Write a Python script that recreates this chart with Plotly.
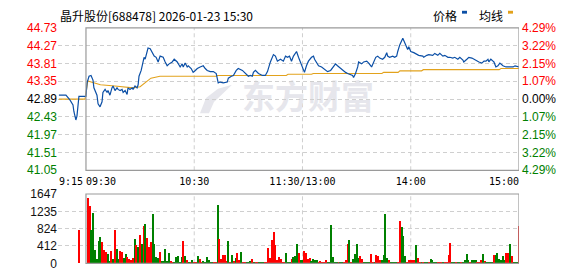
import plotly.graph_objects as go

# ---------------- data ----------------
title_text = "晶升股份[688478] 2026-01-23 15:30"
prev_close = 42.89
price_ticks = [41.05, 41.51, 41.97, 42.43, 42.89, 43.35, 43.81, 44.27, 44.73]
pct_labels = ["4.29%", "3.22%", "2.15%", "1.07%", "0.00%", "1.07%", "2.15%", "3.22%", "4.29%"]
vol_ticks = [0, 412, 824, 1235, 1647]
x_label_minutes = [-15, 0, 60, 120, 180, 240]
x_labels = ["9:15", "09:30", "10:30", "11:30/13:00", "14:00", "15:00"]

# minutes from 09:30 (negative = 9:15-9:30 auction), price
price_t = [-15.0, -11.1, -8.9, -7.2, -6.7, -5.6, -5.0, -4.4, -3.9, -0.6,
           0.0, 0.6, 1.7, 2.8, 3.9, 4.4, 5.6, 6.1, 6.7, 7.8, 8.9, 9.4, 10.6, 11.7, 12.2, 13.3,
           14.4, 15.0, 16.1, 17.2, 17.8, 18.9, 20.0, 20.6, 21.7, 22.8, 23.3, 24.4, 25.6, 26.1,
           27.2, 28.3, 28.9, 29.4, 30.6, 31.1, 31.7, 32.2, 32.8, 33.9, 34.4, 35.6, 36.7, 37.8,
           38.9, 40.0, 41.1, 42.8, 43.9, 45.0, 46.1, 47.8, 48.9, 50.6, 52.2, 53.3, 53.9, 55.0,
           56.1, 56.7, 58.3, 59.4, 60.6, 61.7, 63.3, 65.0, 66.1, 67.2, 68.9, 70.6, 72.2, 72.8,
           73.3, 74.4, 76.1, 78.3, 78.9, 80.6, 81.7, 83.3, 84.4, 86.7, 88.3, 89.4, 90.0, 91.1,
           92.2, 92.8, 93.9, 95.6, 97.8, 99.4, 100.6, 102.2, 103.9, 105.0, 106.1, 107.8, 109.4,
           110.6, 111.7, 112.8, 113.9, 115.0, 116.7, 117.8, 118.9, 120.0,
           120.6, 121.1, 122.2, 123.3, 125.0, 126.1, 126.7, 127.8, 128.9, 130.6, 131.7, 132.8,
           133.9, 135.6, 137.2, 138.3, 139.4, 141.1, 142.8, 143.9, 145.0, 146.7, 147.8, 148.3,
           149.4, 150.6, 151.1, 152.8, 153.9, 155.6, 156.7, 158.3, 159.4, 160.6, 161.7, 162.8,
           164.4, 165.6, 166.7, 167.2, 168.3, 170.0, 171.1, 172.2, 172.8, 173.9, 175.6, 176.1,
           177.2, 178.3, 178.9, 180.0, 181.7, 182.8, 184.4, 186.7, 187.2, 188.9, 190.0, 192.2,
           193.3, 195.0, 196.1, 197.8, 198.9, 200.6, 201.7, 203.3, 204.4, 206.1, 207.2, 208.9,
           209.4, 211.1, 212.2, 213.9, 215.0, 216.7, 217.8, 219.4, 220.6, 221.7, 222.8, 223.3,
           224.4, 225.6, 226.1, 227.2, 228.3, 229.4, 231.1, 232.8, 234.4, 236.7, 237.8, 239.4, 240.0]
price_p = [42.99, 42.99, 42.87, 42.74, 42.57, 42.35, 42.45, 42.74, 42.96, 42.96,
           42.96, 43.31, 43.48, 43.50, 43.38, 43.18, 43.01, 42.99, 42.77, 42.69, 42.82, 43.06, 43.14, 43.06, 43.11, 42.99,
           43.18, 43.23, 43.11, 43.18, 43.14, 43.11, 43.14, 43.06, 43.11, 43.01, 43.18, 43.14, 43.18, 43.14,
           43.23, 43.18, 43.26, 43.48, 43.63, 43.72, 43.82, 43.97, 43.92, 44.12, 44.21, 44.19, 44.09, 44.00,
           43.97, 43.85, 44.00, 43.97, 43.85, 43.75, 43.80, 43.85, 43.92, 43.85, 43.72, 43.80, 43.72, 43.82,
           43.72, 43.75, 43.68, 43.58, 43.63, 43.68, 43.72, 43.75, 43.68, 43.63, 43.60, 43.60, 43.55, 43.36,
           43.31, 43.33, 43.31, 43.33, 43.43, 43.48, 43.50, 43.63, 43.68, 43.63, 43.55, 43.50, 43.48, 43.50,
           43.48, 43.58, 43.63, 43.55, 43.50, 43.50, 43.60, 43.85, 44.04, 44.00, 43.87, 43.92, 43.87,
           44.00, 43.97, 44.00, 43.87, 44.00, 44.12, 43.97, 43.85, 43.72,
           43.63, 43.58, 43.75, 43.87, 43.97, 44.00, 43.92, 43.82, 43.75, 43.72, 43.68, 43.63,
           43.60, 43.63, 43.75, 43.80, 43.75, 43.68, 43.60, 43.58, 43.55, 43.53, 43.50, 43.45,
           43.55, 43.72, 43.85, 43.80, 43.85, 43.87, 43.82, 43.72, 43.85, 43.97, 44.00, 43.95,
           43.92, 43.97, 44.09, 44.00, 43.97, 44.00, 43.97, 44.00, 44.12, 44.29, 44.46, 44.41,
           44.29, 44.17, 44.24, 44.12, 44.09, 44.07, 44.02, 44.00, 43.97, 44.02, 44.04, 44.02,
           44.07, 44.02, 44.07, 44.00, 44.02, 43.97, 43.97, 43.95, 43.97, 43.92, 43.97, 43.90,
           43.85, 43.92, 43.97, 43.95, 43.92, 43.87, 43.85, 43.82, 43.87, 43.87, 43.92, 43.85,
           43.92, 43.87, 43.85, 43.72, 43.75, 43.82, 43.75, 43.72, 43.72, 43.72, 43.75, 43.72, 43.72]

avg_t = [-15, -0.5, 1, 8, 16, 26, 30, 33, 36, 41, 72, 73, 111, 112, 125, 126, 164, 165,
         173, 174, 186, 187, 229, 230, 240]
avg_p = [42.89, 42.89, 43.36, 43.26, 43.23, 43.18, 43.21, 43.31, 43.43, 43.48, 43.48, 43.50,
         43.50, 43.53, 43.53, 43.55, 43.55, 43.58, 43.58, 43.62, 43.62, 43.65, 43.65, 43.68, 43.68]

vol_t = [-4] + list(range(1, 241))
vol_v = [790,
         1542, 1354, 790, 1203, 323, 98, 526, 624, 504, 323, 278, 226, 53, 301, 113, 790, 338, 113, 301, 278,
         128, 226, 150, 98, 75, 135, 579, 429, 376, 677, 451, 880, 925, 602, 384, 511, 1165, 466, 150, 128,
         263, 53, 53, 338, 53, 248, 53, 38, 38, 150, 173, 23, 150, 526, 173, 75, 23, 23, 75, 23,
         23, 165, 113, 38, 53, 38, 150, 90, 23, 15, 23, 15, 1376, 579, 113, 203, 188, 53, 541, 38,
         188, 53, 135, 248, 75, 278, 23, 23, 38, 23, 53, 98, 23, 23, 23, 23, 23, 23, 23, 23,
         361, 135, 549, 752, 429, 75, 150, 98, 23, 23, 248, 23, 23, 113, 150, 173, 451, 248, 90, 75,
         301, 248, 113, 135, 53, 113, 68, 68, 23, 45, 23, 23, 68, 23, 23, 902, 150, 38, 23, 23,
         23, 38, 23, 68, 451, 564, 38, 113, 226, 451, 135, 165, 113, 38, 23, 23, 23, 226, 23, 23,
         203, 165, 90, 75, 203, 1173, 135, 90, 23, 23, 23, 23, 23, 1015, 865, 654, 173, 23, 90, 75,
         75, 75, 436, 135, 23, 23, 23, 23, 23, 23, 113, 68, 38, 23, 23, 23, 23, 23, 23, 23,
         203, 474, 23, 23, 23, 23, 23, 23, 23, 90, 226, 68, 38, 90, 75, 90, 23, 23, 90, 226,
         53, 38, 23, 23, 23, 203, 203, 248, 113, 90, 165, 68, 248, 248, 451, 165, 23, 23, 23, 880]
vol_dir = ("r" +
           "rrggggggrrrggrgrggrr" "ggrrrrgrgrgrgrrrgggg" "rggggg" "rrggggg" "rgrgrgrrgrrgggg" "g"
           "grrgrrrrrgrgrgrrgrrg" "ggrgrrgggrrrrrrrr" "rrrrgggrggg" "rggrrrrggg"
           "grrrrrggggggrggrrrgr" "ggggrrggggrrgrrrgggg" "rggggrrgggrrrrrgrrgr" "ggrggggrrrgrrrrggrgg"
           "rggggrgggrrrgrggggrg" "gggggrrgrgggrrrrrggg")

# ---------------- styling ----------------
RED, GREEN, BLACK = "#ff0000", "#008000", "#000000"
W, H = 578, 276
X0, X1 = 58, 519            # plot area (px)
P_TOP, P_BOT = 22, 172      # price panel (px)
V_TOP, V_BOT = 197, 270     # volume panel (px)
GRID = "#cfcfcf"
BOX = "#9a9a9a"
XR = [-15.5, 240]
ppm = (X1 - X0) / (XR[1] - XR[0])


def col(v):
    if v > prev_close + 1e-9:
        return RED
    if v < prev_close - 1e-9:
        return GREEN
    return BLACK


dirs = (vol_dir + "g" * len(vol_v))[:len(vol_v)]
vol_colors = [RED if d == "r" else GREEN for d in dirs]

fig = go.Figure()
fig.add_trace(go.Scatter(x=avg_t, y=avg_p, mode="lines", line=dict(color="#e2a21c", width=1.1),
                         xaxis="x", yaxis="y", hoverinfo="skip", showlegend=False))
fig.add_trace(go.Scatter(x=price_t, y=price_p, mode="lines", line=dict(color="#0b4fa6", width=1.2),
                         xaxis="x", yaxis="y", hoverinfo="skip", showlegend=False))
fig.add_trace(go.Scatter(x=[0], y=[prev_close], mode="markers", marker=dict(opacity=0),
                         xaxis="x", yaxis="y3", hoverinfo="skip", showlegend=False))
fig.add_trace(go.Bar(x=vol_t, y=vol_v, marker=dict(color=vol_colors, line=dict(width=0)),
                     width=0.6, xaxis="x2", yaxis="y2", hoverinfo="skip", showlegend=False))

align = ["left", "left", "center", "center", "center", "right"]
tick_pos = []
for m, lab, a in zip(x_label_minutes, x_labels, align):
    wpx = len(lab) * 6.02
    if a == "left":
        tick_pos.append(m + (wpx / 2) / ppm)
    elif a == "right":
        tick_pos.append(m - (wpx / 2) / ppm)
    else:
        tick_pos.append(m)

axis_font = dict(family="Liberation Sans", size=12)
price_text = ['<span style="color:%s">%.2f</span>' % (col(v), v) for v in price_ticks]
pct_text = ['<span style="color:%s">%s</span>' % (col(v), s) for v, s in zip(price_ticks, pct_labels)]

dom_x = [X0 / W, X1 / W]
fig.update_layout(
    width=W, height=H, margin=dict(l=0, r=0, t=0, b=0),
    paper_bgcolor="white", plot_bgcolor="white", bargap=0, showlegend=False,
    xaxis=dict(domain=dom_x, range=XR, anchor="y", showgrid=False, zeroline=False,
               tickmode="array", tickvals=tick_pos, ticktext=x_labels, ticks="",
               ticklabelstandoff=4,
               tickfont=dict(family="DejaVu Sans Mono", size=10, color=BLACK), showline=False),
    xaxis2=dict(domain=dom_x, range=XR, anchor="y2", matches="x", showgrid=False, zeroline=False,
                showticklabels=False, showline=False),
    yaxis=dict(domain=[1 - P_BOT / H, 1 - P_TOP / H], range=[price_ticks[0], price_ticks[-1]],
               tickmode="array", tickvals=price_ticks, ticktext=price_text, ticks="",
               showgrid=True, gridcolor=GRID, griddash="4px,3px", gridwidth=1, zeroline=False,
               tickfont=axis_font, showline=False),
    yaxis3=dict(overlaying="y", side="right", anchor="x", range=[price_ticks[0], price_ticks[-1]],
                tickmode="array", tickvals=price_ticks, ticktext=pct_text, ticks="",
                ticklabelstandoff=2,
                showgrid=False, zeroline=False, tickfont=axis_font, showline=False),
    yaxis2=dict(domain=[1 - V_BOT / H, 1 - V_TOP / H], range=[0, vol_ticks[-1]],
                tickmode="array", tickvals=vol_ticks, ticks="",
                showgrid=True, gridcolor=GRID, griddash="4px,3px", gridwidth=1, zeroline=False,
                tickfont=dict(family="Liberation Sans", size=12, color="#111111"), showline=False),
)

shapes = []
for m in x_label_minutes[2:5]:
    shapes.append(dict(type="line", xref="x", yref="y domain", x0=m, x1=m, y0=0, y1=1,
                       line=dict(color=GRID, width=1, dash="4px,3px"), layer="below"))
    shapes.append(dict(type="line", xref="x2", yref="y2 domain", x0=m, x1=m, y0=0, y1=1,
                       line=dict(color=GRID, width=1, dash="4px,3px"), layer="below"))
shapes.append(dict(type="rect", xref="x", yref="y domain", x0=0, x1=240, y0=0, y1=1,
                   line=dict(color=BOX, width=1.2), layer="above"))
shapes.append(dict(type="rect", xref="x2", yref="y2 domain", x0=0, x1=240, y0=0, y1=1,
                   line=dict(color=BOX, width=1.2), layer="above"))


def px(x, y):
    return x / W, 1 - y / H


lx = [200, 206, 218, 232, 224, 214, 209]
ly = [112, 96, 86, 82, 90, 100, 112]
path = "M " + " L ".join("%.4f,%.4f" % px(a, b) for a, b in zip(lx, ly)) + " Z"
shapes.append(dict(type="path", xref="paper", yref="paper", path=path,
                   fillcolor="#e6e6ec", line=dict(width=0), layer="below"))
wx0, wy0 = px(236, 80)
wx1, wy1 = px(380, 116)
shapes.append(dict(type="rect", xref="paper", yref="paper", x0=wx0, x1=wx1, y0=wy1, y1=wy0,
                   line=dict(width=0), fillcolor="rgba(0,0,0,0)", layer="below",
                   label=dict(text="<b>东方财富</b>", font=dict(family="Noto Sans CJK SC", size=33,
                                                            color="#e6e6ec"),
                              textposition="middle center")))
for (a, b, c) in [(462, 467, "#0b4fa6"), (508, 513, "#e2a21c")]:
    x0, y0 = px(a, 7)
    x1, y1 = px(b, 4)
    shapes.append(dict(type="rect", xref="paper", yref="paper", x0=x0, x1=x1, y0=y0, y1=y1,
                       fillcolor=c, line=dict(width=0)))
fig.update_layout(shapes=shapes)

ann = []
tx, ty = px(58, 9)
ann.append(dict(text=title_text, xref="paper", yref="paper", x=tx, y=ty, xanchor="left",
                yanchor="middle", showarrow=False,
                font=dict(family="Noto Sans CJK SC", size=12, color=BLACK)))
for lab, xx in [("价格", 431), ("均线", 477)]:
    a, b = px(xx, 9)
    ann.append(dict(text=lab, xref="paper", yref="paper", x=a, y=b, xanchor="left",
                    yanchor="middle", showarrow=False,
                    font=dict(family="Noto Sans CJK SC", size=12, color=BLACK)))
fig.update_layout(annotations=ann)

fig.write_html("out.html")
